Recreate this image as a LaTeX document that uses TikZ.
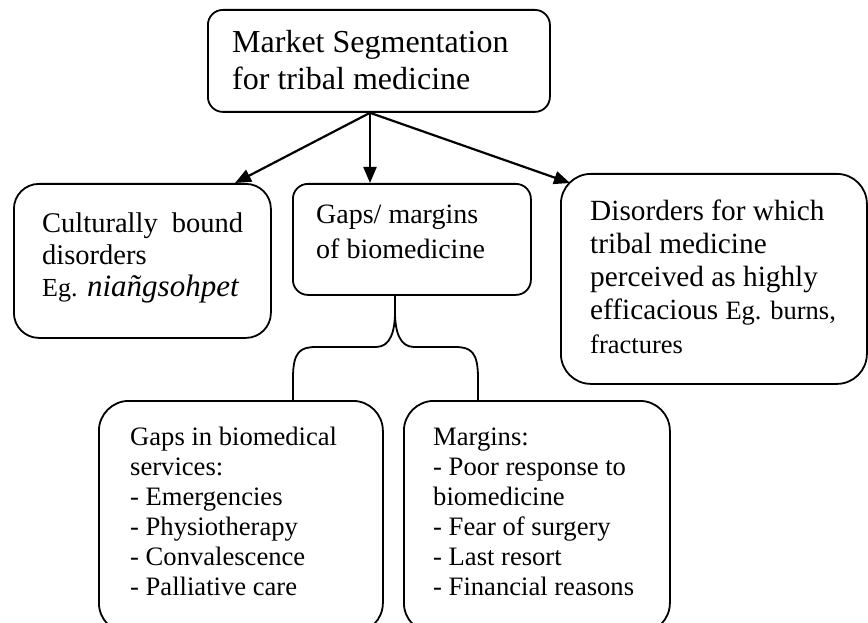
\documentclass[tikz,border=0pt]{standalone}
\usepackage{fontspec}
\setmainfont{Liberation Serif}
\usetikzlibrary{arrows.meta}
\begin{document}
\begin{tikzpicture}[x=1pt,y=-1pt,
  box/.style={draw, line width=1.8pt, inner sep=0pt, anchor=north west},
  txt/.style={anchor=base west, inner sep=0pt},
  conn/.style={line width=2.2pt, -{Triangle[length=16pt,width=13pt]}},
  brace/.style={line width=1.8pt}]
\useasboundingbox (0,0) rectangle (868,623);
% boxes
\node[box, rounded corners=15pt, minimum width=342pt, minimum height=102pt] (top) at (207,9) {};
\node[box, rounded corners=25pt, minimum width=257pt, minimum height=154pt] (cult) at (13,183) {};
\node[box, rounded corners=15pt, minimum width=238pt, minimum height=111pt] (gm) at (292,183) {};
\node[box, rounded corners=30pt, minimum width=306pt, minimum height=210pt] (dis) at (560,173) {};
\node[box, rounded corners=30pt, minimum width=284pt, minimum height=232pt] (gaps) at (98,400) {};
\node[box, rounded corners=30pt, minimum width=266pt, minimum height=232pt] (marg) at (403,400) {};
% texts
\node[txt] (toptxt) at (232,53) {\parbox[t]{320pt}{\fontsize{32}{37}\selectfont Market Segmentation\\for tribal medicine}};
\node[txt] (culttxt) at (42,233) {\parbox[t]{230pt}{\fontsize{28.5}{32}\selectfont Culturally\hspace{14pt}bound\\disorders\\{\fontsize{26}{32}\selectfont Eg.} {\itshape\fontsize{31}{32}\selectfont niañgsohpet}}};
\node[txt] (gmtxt) at (316,223) {\parbox[t]{210pt}{\fontsize{28}{35}\selectfont Gaps/ margins\\of biomedicine}};
\node[txt] (distxt) at (590,220) {\parbox[t]{270pt}{\fontsize{29.3}{33.3}\selectfont Disorders for which\\tribal medicine\\perceived as highly\\efficacious {\fontsize{26.5}{33.3}\selectfont Eg. burns,}\\{\fontsize{26.5}{33.3}\selectfont fractures}}};
\node[txt] (gapstxt) at (130,445) {\parbox[t]{250pt}{\fontsize{26.6}{30}\selectfont Gaps in biomedical\\services:\\- Emergencies\\- Physiotherapy\\- Convalescence\\- Palliative care}};
\node[txt] (margtxt) at (433,445) {\parbox[t]{230pt}{\fontsize{26.6}{30}\selectfont Margins:\\- Poor response to\\biomedicine\\- Fear of surgery\\- Last resort\\- Financial reasons}};
% connector points
\coordinate (src) at (top.south -| 370,0);
\coordinate (e1) at (235,183);
\coordinate (e2) at (gm.north -| 370,0);
\coordinate (e3) at (570,183);
\draw[conn] (src) -- (e1);
\draw[conn] (src) -- (e2);
\draw[conn] (src) -- (e3);
% brace
\coordinate (bt) at (gm.south -| 395,0);
\coordinate (bl) at (gaps.north -| 293,0);
\coordinate (br) at (marg.north -| 478,0);
\draw[brace] (bl) -- (293,378) .. controls (293,352) and (300,347) .. (316,347)
  -- (376,347) .. controls (390,347) and (395,332) .. (395,312) -- (bt);
\draw[brace] (br) -- (478,378) .. controls (478,352) and (471,347) .. (455,347)
  -- (414,347) .. controls (400,347) and (395,332) .. (395,312);
\end{tikzpicture}
\end{document}
